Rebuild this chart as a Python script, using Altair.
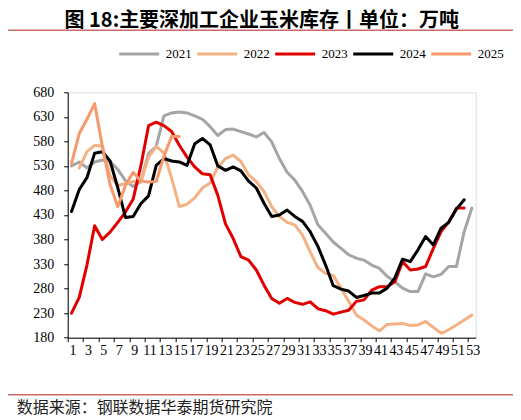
import altair as alt
import pandas as pd

title_text = "图 18:主要深加工企业玉米库存丨单位：万吨"
source_text = "数据来源：钢联数据华泰期货研究院"

years = ["2021", "2022", "2023", "2024", "2025"]
colors = ["#A5A5A5", "#F4B183", "#E00000", "#000000", "#F69A6E"]

start_week = {"2021": 1, "2022": 2, "2023": 1, "2024": 1, "2025": 1}

v2021 = [530, 538, 526, 538, 542, 539, 523, 500, 488, 498,
         555, 570, 632, 638, 640, 638, 632, 625, 610, 592,
         604, 605, 600, 595, 589, 598, 579, 545, 517, 501,
         478, 450, 410, 393, 375, 362, 349, 342, 338, 328,
         321, 305, 294, 281, 274, 274, 310, 304, 309, 325,
         325, 396, 444]
v2022 = [526, 559, 572, 570, 510, 490, 494, 498, 497,
         548, 570, 556, 505, 447, 452, 465, 485, 495, 528,
         545, 552, 539, 512, 498, 478, 447, 427, 415, 410,
         389, 355, 323, 311, 307, 281, 254, 226, 216, 204,
         194, 207, 208, 209, 205, 206, 213, 201, 189, 196,
         206, 216, 226]
v2023 = [230, 262, 328, 408, 380, 395, 415, 436, 462, 530,
         612, 619, 612, 600, 572, 548, 528, 514, 512, 470,
         412, 382, 345, 338, 318, 287, 260, 250, 260, 252,
         248, 253, 239, 235, 228, 232, 236, 254, 257, 277,
         284, 284, 294, 335, 318, 320, 325, 362, 396, 416,
         444, 444]
v2024 = [437, 482, 506, 556, 559, 540, 486, 425, 427, 453,
         469, 531, 545, 540, 538, 531, 575, 586, 573, 530,
         521, 528, 520, 499, 485, 454, 427, 430, 440, 427,
         417, 396, 366, 328, 286, 279, 275, 262, 266, 271,
         271, 281, 302, 340, 335, 359, 386, 369, 403, 415,
         442, 461]
v2025 = [535, 596, 625, 657, 570, 492, 447, 490, 517, 499,
         497, 498, 550, 590, 590]

x_labels = list(range(1, 54, 2))
y_ticks = list(range(180, 681, 50))

series = {"2021": v2021, "2022": v2022, "2023": v2023, "2024": v2024, "2025": v2025}
rows = []
for yr, vals in series.items():
    for i, v in enumerate(vals):
        rows.append({"year": yr, "week": start_week[yr] + i, "value": v})
df = pd.DataFrame(rows)

W, H = 408, 245.4
half = W / 53 / 2

lines = alt.Chart(df).mark_line(strokeWidth=3, strokeJoin="round", strokeCap="round").encode(
    x=alt.X("week:Q",
            scale=alt.Scale(domain=[0.5, 53.5], nice=False, zero=False),
            axis=alt.Axis(values=x_labels, title=None, grid=False,
                          tickOffset=-half, labelOffset=half + 1,
                          labelOverlap=False, labelFlush=False,
                          labelFont="Liberation Serif", labelFontSize=14,
                          labelColor="black", tickSize=4, tickColor="black",
                          tickWidth=1, domainColor="black", domainWidth=1,
                          labelPadding=2)),
    y=alt.Y("value:Q",
            scale=alt.Scale(domain=[180, 680], nice=False, zero=False),
            axis=alt.Axis(values=y_ticks, title=None, grid=False,
                          labelFont="Liberation Serif", labelFontSize=14,
                          labelColor="black", tickSize=4, tickColor="black",
                          tickWidth=1, domainColor="black", domainWidth=1,
                          labelPadding=10, labelFlush=False)),
    color=alt.Color("year:N",
                    scale=alt.Scale(domain=years, range=colors),
                    legend=alt.Legend(title=None, orient="none", legendX=50, legendY=-60,
                                      direction="horizontal", columns=5,
                                      symbolType="stroke", symbolSize=1600,
                                      symbolStrokeWidth=3, labelFont="Liberation Serif",
                                      labelFontSize=13, labelColor="black",
                                      columnPadding=-1, labelOffset=5, padding=0)),
    order=alt.Order("week:Q"),
)

title_mark = alt.Chart(pd.DataFrame({"t": [title_text]})).mark_text(
    font="Noto Sans CJK SC", fontSize=20, fontWeight="bold", color="black",
    align="center", baseline="middle"
).encode(text="t:N", x=alt.value(194), y=alt.value(-71.5))

source_mark = alt.Chart(pd.DataFrame({"t": [source_text]})).mark_text(
    font="Noto Sans CJK SC", fontSize=16, color="#222222",
    align="left", baseline="middle"
).encode(text="t:N", x=alt.value(-51), y=alt.value(316))

top_rule = alt.Chart(pd.DataFrame({"a": [0]})).mark_rule(color="#C96A6A", strokeWidth=1.5).encode(
    x=alt.value(-62.7), x2=alt.value(448.3), y=alt.value(-62))
bottom_rule = alt.Chart(pd.DataFrame({"a": [0]})).mark_rule(color="#C96A6A", strokeWidth=1.5).encode(
    x=alt.value(-62.7), x2=alt.value(448.3), y=alt.value(302.4))

chart = alt.layer(lines, title_mark, source_mark, top_rule, bottom_rule).properties(
    width=W, height=H,
    autosize=alt.AutoSizeParams(type="none"),
    padding={"left": 59.7, "top": 84.3, "right": 37.3, "bottom": 80},
).configure_view(stroke=None).configure(background="white")

chart.save("out.html", embed_options={"renderer": "svg", "actions": False})
